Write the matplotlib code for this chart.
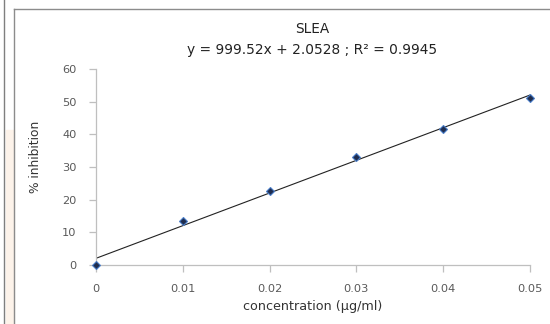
import numpy as np
import matplotlib.pyplot as plt
from matplotlib.lines import Line2D
from matplotlib.patches import Rectangle

plt.rcParams['font.family'] = ['DejaVu Sans']

# data
conc = [0.0, 0.01, 0.02, 0.03, 0.04, 0.05]
inhibition = [0.0, 13.6, 22.6, 33.1, 41.5, 51.0]
slope, intercept = 999.52, 2.0528
xticks = [0, 0.01, 0.02, 0.03, 0.04, 0.05]
xticklabels = ["0", "0.01", "0.02", "0.03", "0.04", "0.05"]
yticks = [0, 10, 20, 30, 40, 50, 60]

fig = plt.figure(figsize=(5.5, 3.24), dpi=100)
ax = fig.add_axes([0.1745, 0.182, 0.789, 0.605])

# faint watermark strip + frame lines on the left, as in the screenshot
fig.patches.append(Rectangle((0.01, 0.0), 0.015, 0.6, transform=fig.transFigure,
                             color="#fdf3ea", zorder=0))
fig.add_artist(Line2D([0.008, 0.008], [0, 1], color="#7f7f7f", lw=1.0))
fig.add_artist(Line2D([0.026, 0.026], [0, 0.973], color="#8c8c8c", lw=1.0))
fig.add_artist(Line2D([0.026, 1.0], [0.973, 0.973], color="#8c8c8c", lw=1.0))

xs = np.array([conc[0], conc[-1]])
ax.plot(xs, slope * xs + intercept, color="#222222", lw=0.8, zorder=2)
ax.plot(conc, inhibition, linestyle="none", marker="D", markersize=4,
        markerfacecolor="#1f2d4f", markeredgecolor="#4a7ec9",
        markeredgewidth=0.8, zorder=3, clip_on=False)

ax.set_xlim(0, 0.05)
ax.set_ylim(0, 60)
ax.set_xticks(xticks)
ax.set_xticklabels(xticklabels)
ax.set_yticks(yticks)

for side in ("top", "right"):
    ax.spines[side].set_visible(False)
for side in ("left", "bottom"):
    ax.spines[side].set_color("#bfbfbf")
    ax.spines[side].set_linewidth(0.9)
ax.tick_params(axis="both", colors="#bfbfbf", labelcolor="#595959",
               labelsize=8.2, length=5, width=0.9, direction="out")
ax.tick_params(axis="x", pad=9)
ax.tick_params(axis="y", pad=9)

ax.set_xlabel("concentration (\u00b5g/ml)", fontsize=9.2, color="#333333", labelpad=4)
ax.set_ylabel("% inhibition", fontsize=8.8, color="#333333", va="center")
ax.yaxis.set_label_coords(-0.14, 0.55)

fig.text(0.567, 0.912, "SLEA", ha="center", va="center", fontsize=9.8, color="#222222")
fig.text(0.567, 0.845, "y = 999.52x + 2.0528 ; R\u00b2 = 0.9945", ha="center",
         va="center", fontsize=9.9, color="#222222")

fig.savefig("out.png", dpi=100, facecolor="white")
